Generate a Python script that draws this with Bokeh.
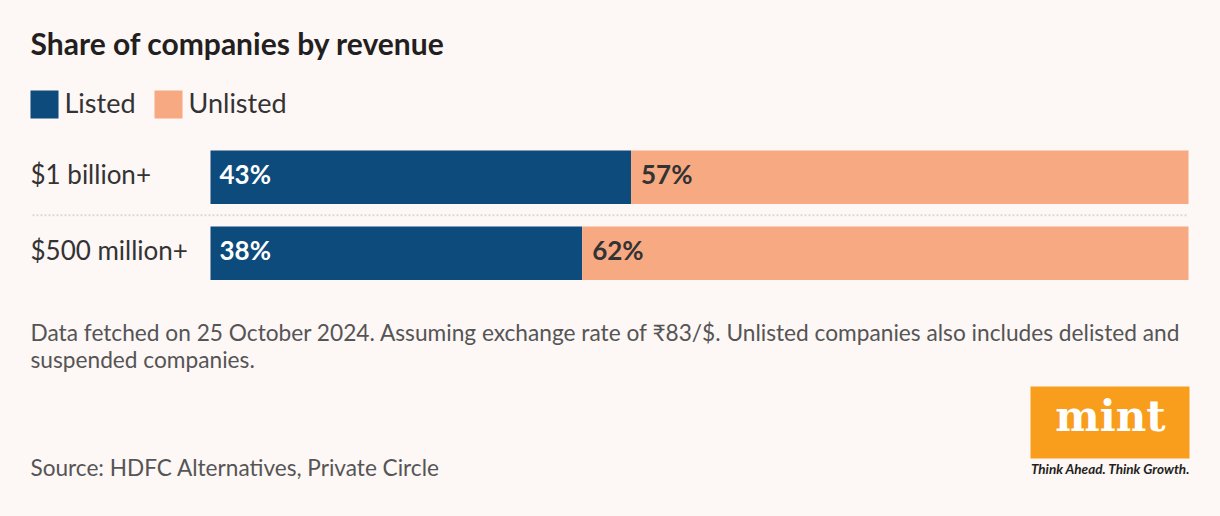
from bokeh.plotting import figure
from bokeh.models import Range1d, ColumnDataSource
from bokeh.core.properties import value
from bokeh.embed import file_html
from bokeh.resources import INLINE

# ---- data ----
categories = ["$1 billion+", "$500 million+"]
listed = [43, 38]
unlisted = [57, 62]
series_names = ["Listed", "Unlisted"]
title_text = "Share of companies by revenue"
note_lines = [
    "Data fetched on 25 October 2024. Assuming exchange rate of \u20b983/$. Unlisted companies also includes delisted and",
    "suspended companies.",
]
source_text = "Source: HDFC Alternatives, Private Circle"

# ---- style ----
BG = "#fdf7f6"
BLUE = "#0d4b7c"
ORANGE = "#f7a982"
MINT = "#f99d1c"
DARK = "#231f20"
TEXT = "#333333"
GREY = "#555555"
FONT = "Lato"

W, H = 1220, 516
PX_PCT = 9.78      # pixels per percentage point
PX_ROW = 76.0      # pixels per category row
x0 = -210 / PX_PCT
y_top = -176.7 / PX_ROW
SHIFT = 0.4        # baseline correction, in em


def X(px):  # page pixel -> data x
    return x0 + px / PX_PCT


def Y(py):  # page pixel -> data y
    return y_top + py / PX_ROW


def TY(py, size):  # baseline pixel -> data y for text of given size
    return Y(py - SHIFT * size)


p = figure(width=W, height=H,
           x_range=Range1d(x0, x0 + W / PX_PCT),
           y_range=Range1d(y_top + H / PX_ROW, y_top),
           x_axis_type=None, y_axis_type=None,
           output_backend="svg", toolbar_location=None,
           min_border=0)
p.grid.visible = False
p.outline_line_color = None
p.background_fill_color = BG
p.border_fill_color = BG

rows = list(range(len(categories)))
totals = [a + b for a, b in zip(listed, unlisted)]
src = ColumnDataSource(dict(
    y=rows, cat=categories, listed=listed, unlisted=unlisted, total=totals,
    lab_l=[f"{v}%" for v in listed], lab_u=[f"{v}%" for v in unlisted],
    ytxt=[r + (7.0 - SHIFT * 26) / PX_ROW for r in rows],
))

bar_h = 53.5 / PX_ROW
p.hbar(y="y", left=0, right="listed", height=bar_h, color=BLUE, line_color=None, source=src)
p.hbar(y="y", left="listed", right="total", height=bar_h, color=ORANGE, line_color=None, source=src)

# percent labels
p.text(x=0, y="ytxt", text="lab_l", source=src, x_offset=9, text_color="white",
       text_font=value(FONT), text_font_style="bold", text_font_size="26px",
       text_baseline="alphabetic", text_align="left")
p.text(x="listed", y="ytxt", text="lab_u", source=src, x_offset=10, text_color=TEXT,
       text_font=value(FONT), text_font_style="bold", text_font_size="26px",
       text_baseline="alphabetic", text_align="left")

# category labels
p.text(x=X(30), y="ytxt", text="cat", source=src, text_color=TEXT,
       text_font=value(FONT), text_font_size="26px",
       text_baseline="alphabetic", text_align="left")

# dotted separator between rows
for r in rows[:-1]:
    ysep = r + 0.5
    p.segment(x0=X(32), x1=100, y0=ysep, y1=ysep, line_color="#dcd6d5",
              line_width=2, line_dash="2 2")

# title
p.text(x=[X(30)], y=[TY(54, 30)], text=[title_text], text_color=DARK,
       text_font=value(FONT), text_font_style="bold", text_font_size="30px",
       text_baseline="alphabetic")

# legend
leg_x = [30, 154]
for name, col, lx in zip(series_names, [BLUE, ORANGE], leg_x):
    p.quad(left=[X(lx)], right=[X(lx + 28)], top=[Y(90)], bottom=[Y(118)],
           color=col, line_color=None)
    p.text(x=[X(lx + 34)], y=[TY(113, 27)], text=[name], text_color=TEXT,
           text_font=value(FONT), text_font_size="27px", text_baseline="alphabetic")

# footnote
for i, line in enumerate(note_lines):
    p.text(x=[X(30)], y=[TY(341 + 27.5 * i, 22.7)], text=[line], text_color=GREY,
           text_font=value(FONT), text_font_size="22.7px", text_baseline="alphabetic")

p.text(x=[X(30)], y=[TY(476, 22.6)], text=[source_text], text_color=GREY,
       text_font=value(FONT), text_font_size="22.6px", text_baseline="alphabetic")

# mint logo
p.quad(left=[X(1030)], right=[X(1189)], top=[Y(386)], bottom=[Y(458)],
       color=MINT, line_color=None)
p.text(x=[X(1110)], y=[TY(433, 42)], text=["mint"], text_color="white",
       text_font=value("DejaVu Serif"), text_font_style="bold", text_font_size="42px",
       text_baseline="alphabetic", text_align="center")
p.text(x=[X(1110)], y=[TY(474, 14)], text=["Think Ahead. Think Growth."], text_color=DARK,
       text_font=value(FONT), text_font_style="bold italic", text_font_size="13.5px",
       text_baseline="alphabetic", text_align="center")

html = file_html(p, INLINE)
html = html.replace("</head>", "<style>html,body{background:%s;}</style></head>" % BG, 1)
open("out.html", "w").write(html)
